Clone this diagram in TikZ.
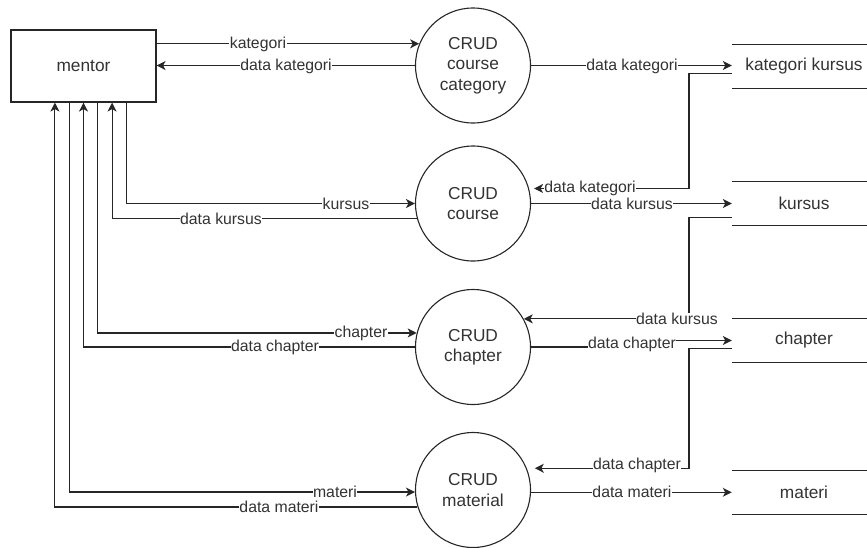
\documentclass[tikz,border=0pt]{standalone}
\usepackage{fontspec}
\setmainfont{Liberation Sans}
\usetikzlibrary{arrows.meta}
\begin{document}
\begin{tikzpicture}[x=1pt,y=-1pt,
  every node/.style={text=black!80},
  line/.style={line width=1.1pt, draw=black!85},
  arr/.style={line, -{Stealth[length=9pt,width=9pt,inset=2.5pt]}},
  proc/.style={circle, draw=black!85, line width=1.1pt, minimum size=115pt, inner sep=0pt, align=center, font=\fontsize{17.3}{20.5}\selectfont},
  ent/.style={rectangle, draw=black!85, line width=1.1pt, minimum width=145pt, minimum height=72pt, font=\fontsize{17.3}{20.5}\selectfont},
  store/.style={rectangle, minimum width=144pt, minimum height=44pt, inner sep=0pt, font=\fontsize{17.3}{20.5}\selectfont},
  lbl/.style={fill=white, inner sep=0.5pt, font=\fontsize{15.8}{18}\selectfont}]
\useasboundingbox (0,0) rectangle (867,547);
\clip (0,0) rectangle (867,547);

% lanes
\coordinate (x1) at (54.9,0);
\coordinate (x2) at (69.2,0);
\coordinate (x3) at (83.5,0);
\coordinate (x4) at (97.8,0);
\coordinate (x5) at (112.1,0);
\coordinate (x6) at (126.4,0);
\coordinate (xr) at (689,0);
\coordinate (xm) at (632,0);

% nodes
\node[ent] (mentor) at (83.5,66) {mentor};
\node[proc] (cat) at (473,65.5) {CRUD\\course\\category};
\node[proc] (course) at (473,203.5) {CRUD\\course};
\node[proc] (chap) at (473,347) {CRUD\\chapter};
\node[proc] (mat) at (473,490) {CRUD\\material};

\node[store] (s1) at (804,66.3) {kategori kursus};
\node[store] (s2) at (804,203.7) {kursus};
\node[store] (s3) at (804,340.5) {chapter};
\node[store] (s4) at (804,492.3) {materi};
\foreach \s in {s1,s2,s3,s4}{
  \draw[line] (\s.north west) -- (\s.north east);
  \draw[line] (\s.south west) -- (\s.south east);
}

% mentor side
\draw[arr] (mentor.east |- cat.158) -- (cat.158);
\draw[arr] (cat.west) -- (cat.west -| mentor.east);
\draw[arr] (mentor.south -| x6) |- (course.west);
\draw[arr] (course.195) -| (mentor.south -| x5);
\draw[arr] (mentor.south -| x4) |- (chap.166);
\draw[arr] (chap.west) -| (mentor.south -| x3);
\draw[arr] (mentor.south -| x2) |- (mat.182);
\draw[arr] (mat.197) -| (mentor.south -| x1);

% store side
\draw[arr] (cat.east) -- (cat.east -| s1.west);
\draw[arr, shorten >=5pt] ([yshift=-7pt]s1.west) -| (course.15 -| xr) -- (course.15);
\draw[arr] (course.east) -- (course.east -| s2.west);
\draw[arr] ([yshift=-14pt]s2.west) -| (chap.29 -| xr) -- (chap.29);
\draw[arr] (chap.east) -- (chap.east -| xm) -- (xm |- s3.west) -- (s3.west);
\draw[arr, shorten >=8pt] ([yshift=-7.8pt]s3.west) -| (mat.22 -| xr) -- (mat.22);
\draw[arr] (s4.west -| mat.east) -- (s4.west);

% labels
\node[lbl] (l1) at (258,44) {kategori};
\node[lbl] (l2) at (286,66) {data kategori};
\node[lbl] (l3) at (346,203.5) {kursus};
\node[lbl] (l4) at (221,218.4) {data kursus};
\node[lbl] (l5) at (361,333) {chapter};
\node[lbl] (l6) at (275,347) {data chapter};
\node[lbl] (l7) at (335,492) {materi};
\node[lbl] (l8) at (279,507) {data materi};
\node[lbl] (l9) at (632,66) {data kategori};
\node[lbl] (l10) at (590,188.6) {data kategori};
\node[lbl] (l11) at (632,203.5) {data kursus};
\node[lbl] (l12) at (677,319) {data kursus};
\node[lbl] (l13) at (632,344) {data chapter};
\node[lbl] (l14) at (637,465) {data chapter};
\node[lbl] (l15) at (632,492) {data materi};
\end{tikzpicture}
\end{document}
